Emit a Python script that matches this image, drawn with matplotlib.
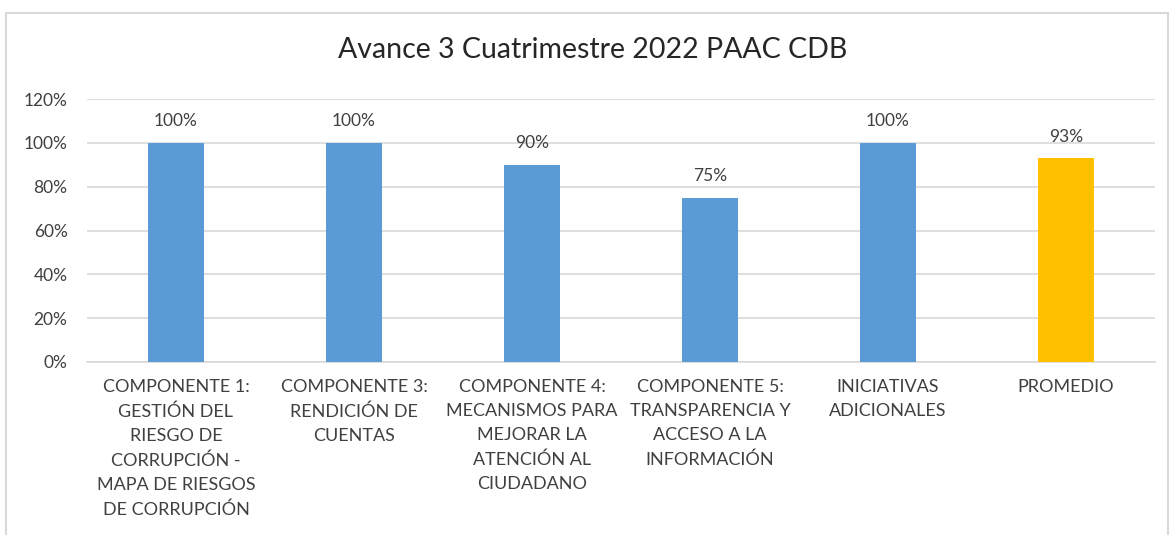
import matplotlib.pyplot as plt
from matplotlib.patches import Rectangle
from matplotlib.ticker import FuncFormatter

plt.rcParams["font.family"] = ["Lato", "DejaVu Sans"]

# datos
categorias = [
    "COMPONENTE 1:\nGESTIÓN DEL\nRIESGO DE\nCORRUPCIÓN -\nMAPA DE RIESGOS\nDE CORRUPCIÓN",
    "COMPONENTE 3:\nRENDICIÓN DE\nCUENTAS",
    "COMPONENTE 4:\nMECANISMOS PARA\nMEJORAR LA\nATENCIÓN AL\nCIUDADANO",
    "COMPONENTE 5:\nTRANSPARENCIA Y\nACCESO A LA\nINFORMACIÓN",
    "INICIATIVAS\nADICIONALES",
    "PROMEDIO",
]
avance = [1.00, 1.00, 0.90, 0.75, 1.00, 0.93]
etiquetas = ["100%", "100%", "90%", "75%", "100%", "93%"]
colores = ["#5B9BD5"] * 5 + ["#FFC000"]

texto = "#404040"

fig = plt.figure(figsize=(11.71, 5.35), dpi=100)
ax = fig.add_axes([87 / 1171, 1 - 362 / 535, (1155 - 87) / 1171, (362 - 99) / 535])

# marco del grafico
fig.patches.append(Rectangle((6 / 1171, -0.05), (1168 - 6) / 1171, 1.05 - 13 / 535,
                             transform=fig.transFigure, fill=False,
                             edgecolor="#d9d9d9", linewidth=1.5))

x = range(len(categorias))
ax.bar(x, avance, width=0.31, color=colores, zorder=3)

for i, v in enumerate(avance):
    ax.annotate(etiquetas[i], (i, v), xytext=(0, 15.5), textcoords="offset points",
                ha="center", va="center", fontsize=12.5, color=texto)

ax.set_xlim(-0.5, len(categorias) - 0.5)
ax.set_ylim(0, 1.2)
ax.set_yticks([0, 0.2, 0.4, 0.6, 0.8, 1.0, 1.2])
ax.yaxis.set_major_formatter(FuncFormatter(lambda v, p: f"{v:.0%}"))
ax.set_xticks(list(x))
ax.set_xticklabels(categorias, fontsize=13, color=texto, linespacing=1.63)
ax.tick_params(axis="y", length=0, pad=14, labelsize=12.5, labelcolor=texto)
ax.tick_params(axis="x", length=0, pad=12)

ax.grid(axis="y", color="#d9d9d9", linewidth=1.2, zorder=0)
for s in ["top", "right", "left"]:
    ax.spines[s].set_visible(False)
ax.spines["bottom"].set_color("#d9d9d9")
ax.spines["bottom"].set_linewidth(1.2)

fig.text(593 / 1171, 1 - 50 / 535, "Avance 3 Cuatrimestre 2022 PAAC CDB",
         ha="center", va="center", fontsize=20.5, color="#262626")

fig.savefig("out.png", dpi=100)
